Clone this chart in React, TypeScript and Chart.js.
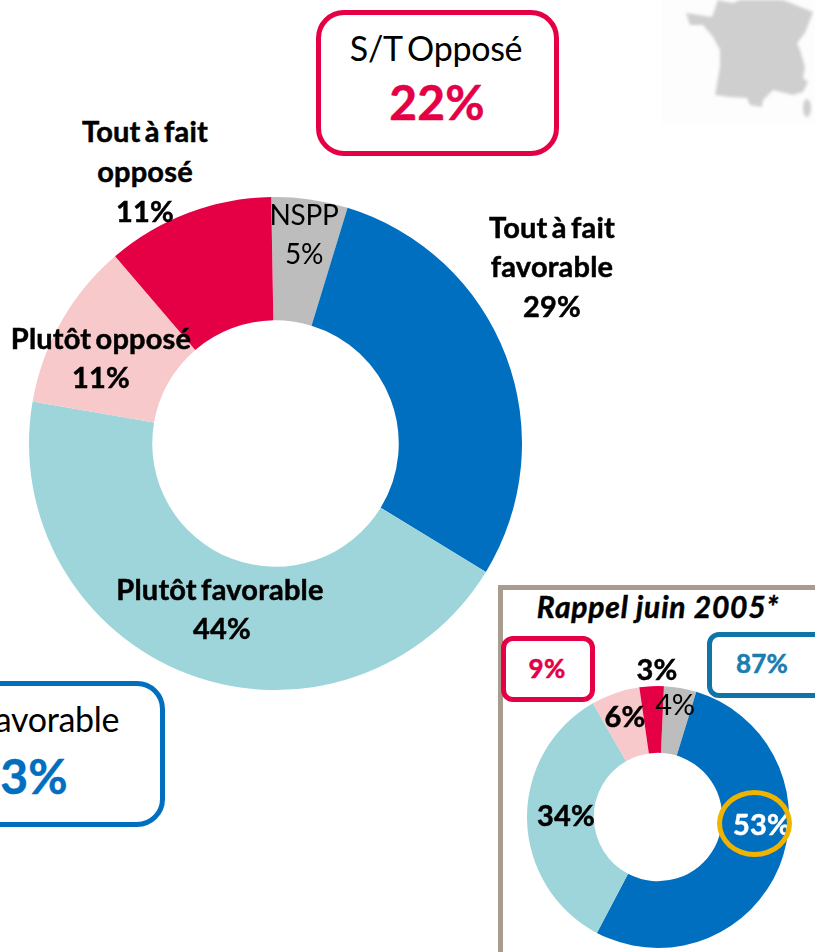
import React, { useEffect, useRef } from "react";
import { Chart, registerables } from "chart.js";

Chart.register(...registerables);

const mainCategories = ["NSPP", "Tout à fait favorable", "Plutôt favorable", "Plutôt opposé", "Tout à fait opposé"];
const mainValues = [5, 29, 44, 11, 11];
const recallCategories = ["NSPP", "Tout à fait favorable", "Plutôt favorable", "Plutôt opposé", "Tout à fait opposé"];
const recallValues = [4, 53, 34, 6, 3];
const sliceColors = ["#BDBDBD", "#016FC0", "#9DD5DA", "#F7C9CB", "#E50046"];
const summaryOpposed = 22;
const summaryFavorable = 73;
const recallOpposed = 9;
const recallFavorable = 87;

const FONT = "Lato, Carlito, sans-serif";

function Donut({ labels, values, rotation, left, top, size, cutout }: any) {
  const ref = useRef<HTMLCanvasElement | null>(null);
  useEffect(() => {
    const chart = new Chart(ref.current!, {
      type: "doughnut",
      data: { labels, datasets: [{ data: values, backgroundColor: sliceColors, borderWidth: 0 }] },
      options: {
        animation: false,
        responsive: false,
        rotation,
        cutout,
        layout: { padding: 0 },
        plugins: { legend: { display: false }, tooltip: { enabled: false } },
      },
    });
    return () => chart.destroy();
  }, []);
  return <canvas ref={ref} width={size} height={size} style={{ position: "absolute", left, top, width: size, height: size }} />;
}

function T({ x, y, size, bold, color = "#000", italic, children, spacing, wordGap = -3 }: any) {
  return (
    <div
      style={{
        position: "absolute",
        left: x,
        top: y,
        transform: "translate(-50%,-50%)",
        fontFamily: FONT,
        fontSize: size,
        fontWeight: bold ? 700 : 400,
        fontStyle: italic ? "italic" : "normal",
        color,
        whiteSpace: "nowrap",
        lineHeight: 1,
        wordSpacing: wordGap,
        letterSpacing: spacing ?? (bold ? 0.2 : -0.3),
        WebkitTextStroke: bold ? `0.5px ${color}` : undefined,
      }}
    >
      {children}
    </div>
  );
}

function Box({ left, top, width, height, color, border, radius }: any) {
  return (
    <div
      style={{
        position: "absolute",
        boxSizing: "border-box",
        left,
        top,
        width,
        height,
        border: `${border}px solid ${color}`,
        borderRadius: radius,
        background: "#fff",
      }}
    />
  );
}

const francePath =
  "686,13 712,17 718,0 733,3 740,0 783,0 813,12 805,33 797,43 800,50 805,67 803,78 808,82 803,92 793,95 773,90 763,100 762,107 750,105 747,98 730,97 715,95 720,67 720,50 713,37 703,25 690,25";

export default function App() {
  const pct = (i: number) => `${mainValues[i]}%`;
  const rec = (i: number) => `${recallValues[i]}%`;
  return (
    <div style={{ position: "absolute", left: 0, top: 0, width: 815, height: 952, overflow: "hidden", background: "#fff" }}>
      <div style={{ position: "absolute", left: 661, top: 0, width: 154, height: 125, background: "#FDFDFD" }} />
      <svg width={815} height={130} style={{ position: "absolute", left: 0, top: 0 }}>
        <g fill="#CFCFCF" style={{ filter: "blur(1.6px)" }}>
          <polygon points={francePath} />
          <ellipse cx={807} cy={108} rx={4} ry={9} />
        </g>
      </svg>

      <Donut labels={mainCategories} values={mainValues} rotation={-1} left={29} top={197} size={493} cutout="50%" />

      <Box left={316} top={10} width={243} height={146} color="#E50046" border={5} radius={28} />
      <T x={436} y={48} size={34}>S/T Opposé</T>
      <T x={437} y={102} size={48} bold color="#E50046">{summaryOpposed}%</T>

      <Box left={-80} top={681} width={245} height={146} color="#016FC0" border={5} radius={28} />
      <T x={20} y={719} size={34}>S/T Favorable</T>
      <T x={20} y={776} size={48} bold color="#016FC0">{summaryFavorable}%</T>

      <T x={145} y={130} size={29} bold>Tout à fait</T>
      <T x={145} y={170} size={29} bold>opposé</T>
      <T x={145} y={210} size={29} bold>{pct(4)}</T>
      <T x={304} y={214} size={28}>{mainCategories[0]}</T>
      <T x={304} y={253} size={28}>{pct(0)}</T>
      <T x={552} y={226} size={29} bold>Tout à fait</T>
      <T x={552} y={265} size={29} bold>favorable</T>
      <T x={552} y={305} size={29} bold>{pct(1)}</T>
      <T x={101} y={337} size={29} bold>{mainCategories[3]}</T>
      <T x={101} y={376} size={29} bold>{pct(3)}</T>
      <T x={220} y={588} size={29} bold>{mainCategories[2]}</T>
      <T x={222} y={627} size={29} bold>{pct(2)}</T>

      <div
        style={{
          position: "absolute",
          boxSizing: "border-box",
          left: 498,
          top: 585,
          width: 340,
          height: 400,
          border: "5px solid #A79C8E",
          background: "#fff",
        }}
      />
      <T x={658} y={606} size={30} bold italic spacing={0.8} wordGap={0}>Rappel juin 2005*</T>
      <Donut labels={recallCategories} values={recallValues} rotation={2.6} left={527} top={686} size={262} cutout="49%" />
      <Box left={501} top={636} width={94} height={66} color="#E50046" border={5} radius={12} />
      <T x={547} y={668} size={26} bold color="#E50046">{recallOpposed}%</T>
      <Box left={707} top={632} width={130} height={66} color="#0F75A8" border={5} radius={12} />
      <T x={762} y={663} size={26} bold color="#1A7DB0">{recallFavorable}%</T>
      <T x={657} y={668} size={29} bold>{rec(4)}</T>
      <T x={675} y={703} size={29}>{rec(0)}</T>
      <T x={625} y={715} size={29} bold>{rec(3)}</T>
      <T x={566} y={814} size={29} bold>{rec(2)}</T>
      <T x={762} y={823} size={29} bold color="#fff">{rec(1)}</T>
      <div
        style={{
          position: "absolute",
          boxSizing: "border-box",
          left: 717,
          top: 790,
          width: 75,
          height: 67,
          border: "5px solid #F0B400",
          borderRadius: "50%",
        }}
      />
    </div>
  );
}
